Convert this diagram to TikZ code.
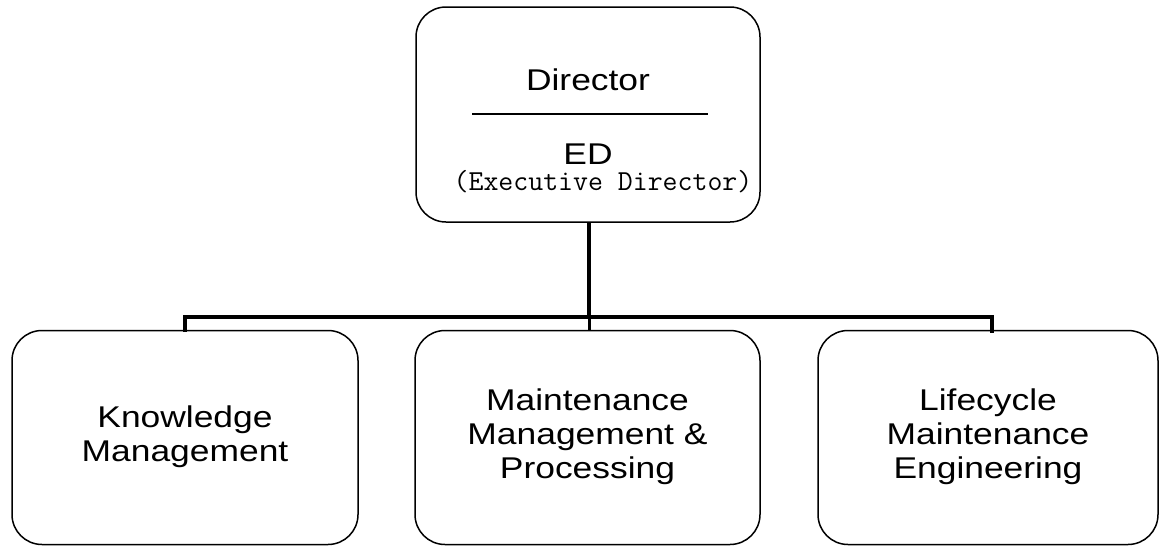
\documentclass[tikz,border=0pt]{standalone}
\usepackage{fontspec}
\setmainfont{Liberation Sans}[FakeStretch=1.18]
\begin{document}
\begin{tikzpicture}[x=1pt,y=-1pt,
  box/.style={draw=black, line width=1.5pt, rounded corners=30pt, rectangle, inner sep=0pt},
  big/.style={font=\fontsize{30}{34}\selectfont, inner sep=0pt},
  lbl/.style={big, align=center},
  conn/.style={draw=black, line width=3.6pt}]
\useasboundingbox (0,0) rectangle (1160,546);
% top box
\node[box, minimum width=344pt, minimum height=215pt] (top) at (588,114.5) {};
\node[big, anchor=base] (dir) at (588,90) {Director};
\coordinate (divl) at (472,114);
\coordinate (divr) at (708,114);
\draw[line width=1.4pt] (divl) -- (divr);
\node[big, anchor=base] (ed) at (588,164) {ED};
\node[anchor=base, inner sep=0pt, font=\ttfamily\fontsize{29}{30}\selectfont] (exec) at (603,190) {(Executive Director)};
% bottom boxes
\node[box, minimum width=346pt, minimum height=214pt] (kn) at (185,437.5) {};
\node[box, minimum width=345pt, minimum height=214pt] (mm) at (587.5,437.5) {};
\node[box, minimum width=340pt, minimum height=214pt] (le) at (988,437.5) {};
\node[lbl] (knt) at (185,437) {Knowledge\\Management};
\node[lbl] (mmt) at (587.5,437) {Maintenance\\Management \&\\Processing};
\node[lbl] (let) at (988,437) {Lifecycle\\Maintenance\\Engineering};
% connectors
\coordinate (bus) at (589,317);
\coordinate (ledrop) at (992,330.75);
\draw[conn] (top.south -| bus) -- (bus);
\draw[conn, line cap=rect] (kn.north) -- (kn.north |- bus) -- (ledrop |- bus) -- (ledrop);
\draw[line width=3pt] (bus) -- (mm.north -| bus);
\end{tikzpicture}
\end{document}
